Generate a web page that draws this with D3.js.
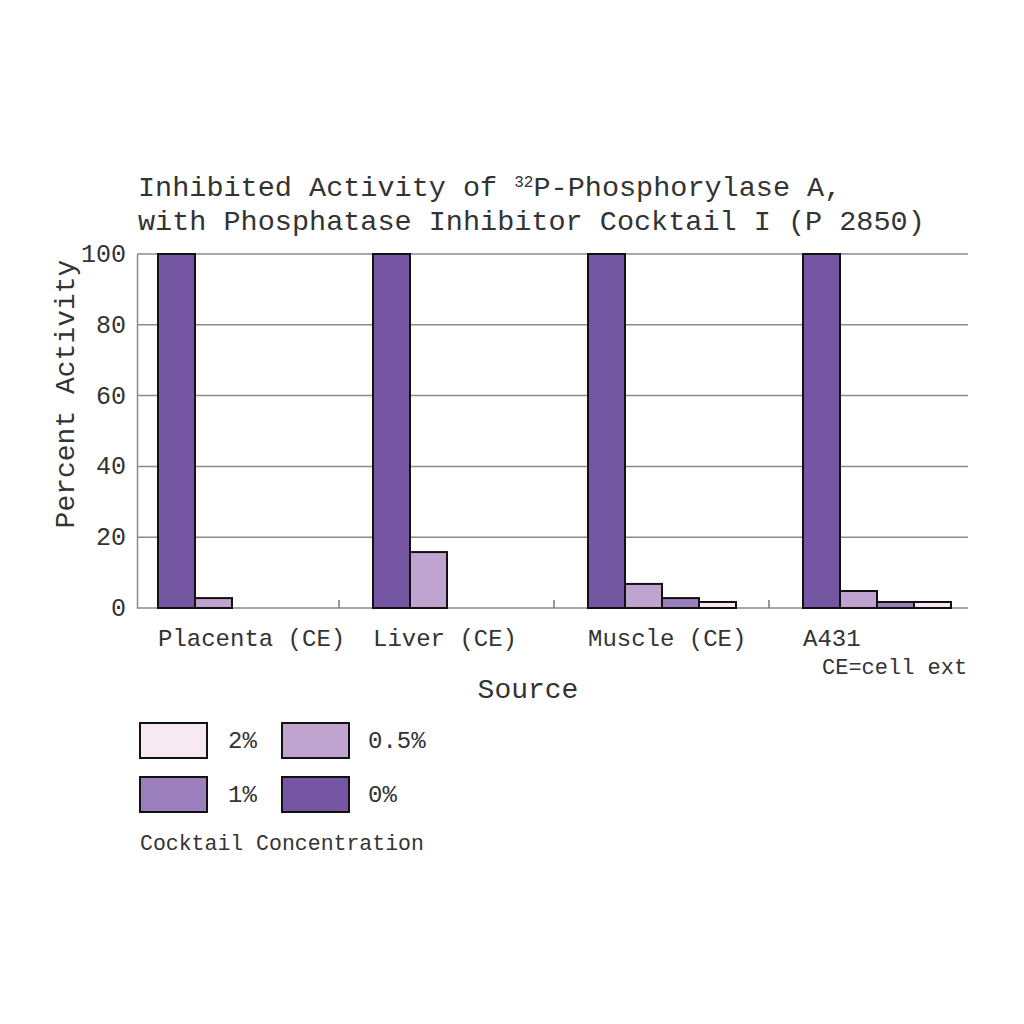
<!DOCTYPE html>
<html>
<head>
<meta charset="utf-8">
<script src="https://cdn.jsdelivr.net/npm/d3@7"></script>
<style>
  html, body { margin: 0; padding: 0; background: #fff; }
  svg { display: block; }
  text { font-family: "Liberation Mono", "Courier New", monospace; fill: #333; }
</style>
</head>
<body>
<svg id="chart" width="1024" height="1024"></svg>
<script>
// ---- data ----
const categories = ["Placenta (CE)", "Liver (CE)", "Muscle (CE)", "A431"];
const series = ["0%", "0.5%", "1%", "2%"];
const values0   = [100, 100, 100, 100];
const values05  = [2.8, 15.8, 6.8, 4.8];
const values1   = [0, 0, 2.8, 1.7];
const values2   = [0, 0, 1.7, 1.7];
const yTicks = [0, 20, 40, 60, 80, 100];
const legendOrder = ["2%", "0.5%", "1%", "0%"];
const seriesColors = ["#7456a2", "#bfa4cf", "#9b80bd", "#f6e9f1"];

const table = categories.map((c, i) => ({
  category: c,
  values: [values0[i], values05[i], values1[i], values2[i]].map((v, j) => ({ series: series[j], value: v }))
}));

// ---- layout ----
const svg = d3.select("#chart");
const plotL = 137, plotR = 968, plotT = 254, plotB = 608;

const x0 = d3.scaleBand().domain(categories).range([130, 990]);
const x1 = d3.scaleBand().domain(series).range([28, 28 + 148]);
const y = d3.scaleLinear().domain([0, 100]).range([plotB, plotT]);
const color = d3.scaleOrdinal().domain(series).range(seriesColors);

// gridlines
svg.append("g").selectAll("line").data(yTicks.filter(t => t > 0)).join("line")
  .attr("x1", plotL).attr("x2", plotR)
  .attr("y1", d => y(d)).attr("y2", d => y(d))
  .attr("stroke", "#8a8a8a").attr("stroke-width", 1.5);

// y axis
const yAxis = svg.append("g").attr("transform", `translate(${plotL},0)`)
  .call(d3.axisLeft(y).tickValues(yTicks).tickSize(0).tickPadding(11));
yAxis.select(".domain").attr("stroke", "#8a8a8a").attr("stroke-width", 1.5);
yAxis.selectAll("text").style("font-family", "'Liberation Mono', 'Courier New', monospace")
  .style("font-size", "25px").attr("fill", "#333").attr("dy", "0.3em");

// x axis line
svg.append("line").attr("x1", plotL).attr("x2", plotR).attr("y1", plotB).attr("y2", plotB)
  .attr("stroke", "#8a8a8a").attr("stroke-width", 1.5);
// category ticks (between groups)
svg.append("g").selectAll("line").data(categories.slice(1)).join("line")
  .attr("x1", d => x0(d) - 6).attr("x2", d => x0(d) - 6)
  .attr("y1", plotB).attr("y2", plotB - 8)
  .attr("stroke", "#777").attr("stroke-width", 1.5);

// bars
const groups = svg.append("g").selectAll("g").data(table).join("g")
  .attr("transform", d => `translate(${x0(d.category)},0)`);
groups.selectAll("rect").data(d => d.values.filter(v => v.value > 0)).join("rect")
  .attr("x", d => x1(d.series))
  .attr("width", x1.bandwidth())
  .attr("y", d => y(d.value))
  .attr("height", d => y(0) - y(d.value))
  .attr("fill", d => color(d.series))
  .attr("stroke", "#111").attr("stroke-width", 2);

// category labels (left aligned at group start)
svg.append("g").selectAll("text").data(categories).join("text")
  .attr("x", d => x0(d) + x1.range()[0])
  .attr("y", 646)
  .style("font-size", "24px")
  .text(d => d);

// note clipped at plot edge (as in the reference)
svg.append("clipPath").attr("id", "noteClip").append("rect")
  .attr("x", 0).attr("y", 0).attr("width", plotR + 2).attr("height", 1024);
svg.append("text").attr("x", 822).attr("y", 674).attr("clip-path", "url(#noteClip)")
  .style("font-size", "22px").text("CE=cell extracts");

// axis titles
svg.append("text").attr("x", 528).attr("y", 698).attr("text-anchor", "middle")
  .style("font-size", "28px").text("Source");
svg.append("text").attr("transform", "translate(74,394) rotate(-90)").attr("text-anchor", "middle")
  .style("font-size", "28px").text("Percent Activity");

// title
const t1 = svg.append("text").attr("x", 138).attr("y", 196).style("font-size", "28.5px");
t1.append("tspan").text("Inhibited Activity of ");
t1.append("tspan").attr("dy", -9).style("font-size", "16px").text("32");
t1.append("tspan").attr("dy", 9).text("P-Phosphorylase A,");
svg.append("text").attr("x", 138).attr("y", 230).style("font-size", "28.5px")
  .text("with Phosphatase Inhibitor Cocktail I (P 2850)");

// legend
const legendPos = [[140, 723], [282, 723], [140, 777], [282, 777]];
const lg = svg.append("g").selectAll("g").data(legendOrder).join("g")
  .attr("transform", (d, i) => `translate(${legendPos[i][0]},${legendPos[i][1]})`);
lg.append("rect").attr("width", 67).attr("height", 35)
  .attr("fill", d => color(d)).attr("stroke", "#111").attr("stroke-width", 2);
lg.append("text").attr("x", (d, i) => i % 2 === 0 ? 88 : 86).attr("y", 25)
  .style("font-size", "24px").text(d => d);
svg.append("text").attr("x", 140).attr("y", 850).style("font-size", "21.5px")
  .text("Cocktail Concentration");
</script>
</body>
</html>
